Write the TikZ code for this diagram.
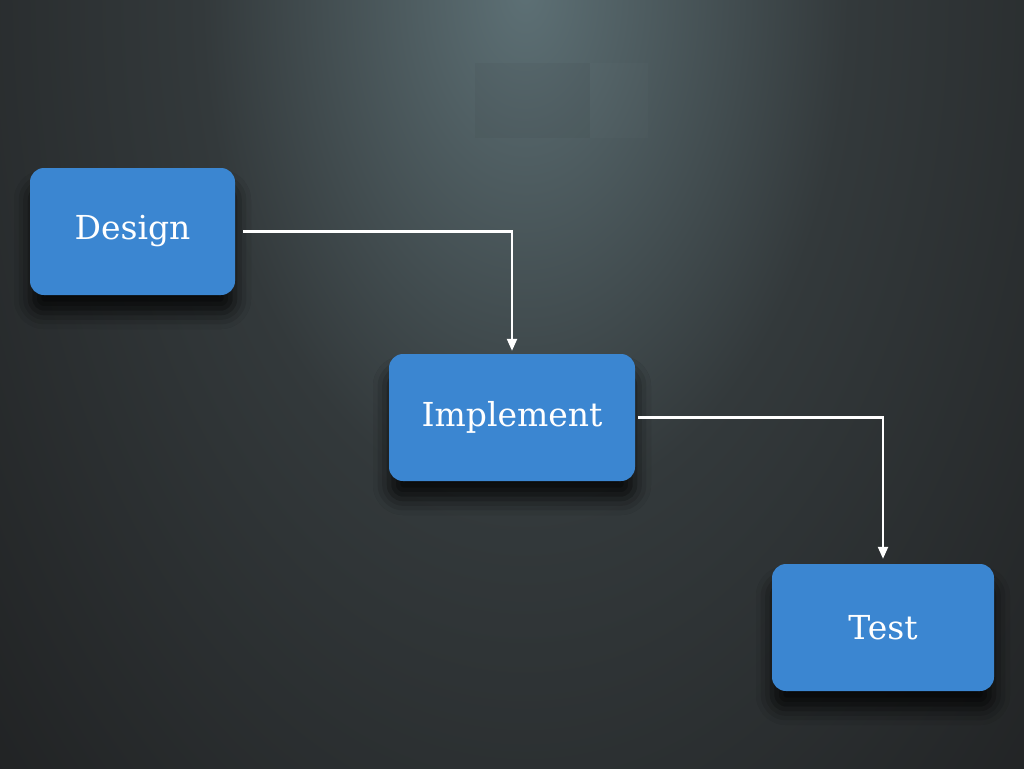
\documentclass[tikz,border=0pt]{standalone}
\usepackage{fontspec}
\setmainfont{DejaVu Serif}
\usetikzlibrary{arrows.meta,shadows.blur}
\definecolor{boxblue}{HTML}{3B86D1}
\definecolor{bgdark}{HTML}{19191A}
\definecolor{bgmid}{HTML}{33393B}
\definecolor{bglight}{HTML}{5D7075}
\pgfdeclareradialshading{bgglow}{\pgfpoint{0bp}{0bp}}{color(0bp)=(bglight); color(9bp)=(bgmid); color(25bp)=(bgdark); color(50bp)=(bgdark)}
\tikzset{
  stage/.style={draw=none, fill=boxblue, rounded corners=14pt, text=white,
    font=\fontsize{33}{39}\selectfont, minimum height=127pt, inner sep=0pt,
    blur shadow={shadow xshift=0pt, shadow yshift=-18pt, shadow blur radius=16pt, shadow opacity=80}},
  flow/.style={draw=white, line width=2.2pt, -{Triangle[length=12pt,width=10pt]}}
}
\begin{document}
\begin{tikzpicture}[x=1pt,y=-1pt]
\useasboundingbox (0,0) rectangle (1024,768);
\begin{scope}
\clip (0,0) rectangle (1024,768);
\fill[bgdark] (0,0) rectangle (1024,768);
\shade[shading=bgglow] (525,-10) ellipse [x radius=900, y radius=1450];
\fill[black, opacity=0.03] (475,63) rectangle (590,138);
\fill[white, opacity=0.015] (590,63) rectangle (648,138);
\end{scope}
\node[stage, minimum width=205pt] (design) at (132.5,231.5) {Design};
\node[stage, minimum width=246pt] (impl) at (512,417.5) {Implement};
\node[stage, minimum width=222pt] (test) at (883,627.5) {Test};
\draw[flow, shorten <=8pt, shorten >=3pt] (design.east) -| (impl.north);
\draw[flow, shorten <=3pt, shorten >=5pt] (impl.east) -| (test.north);
\end{tikzpicture}
\end{document}
